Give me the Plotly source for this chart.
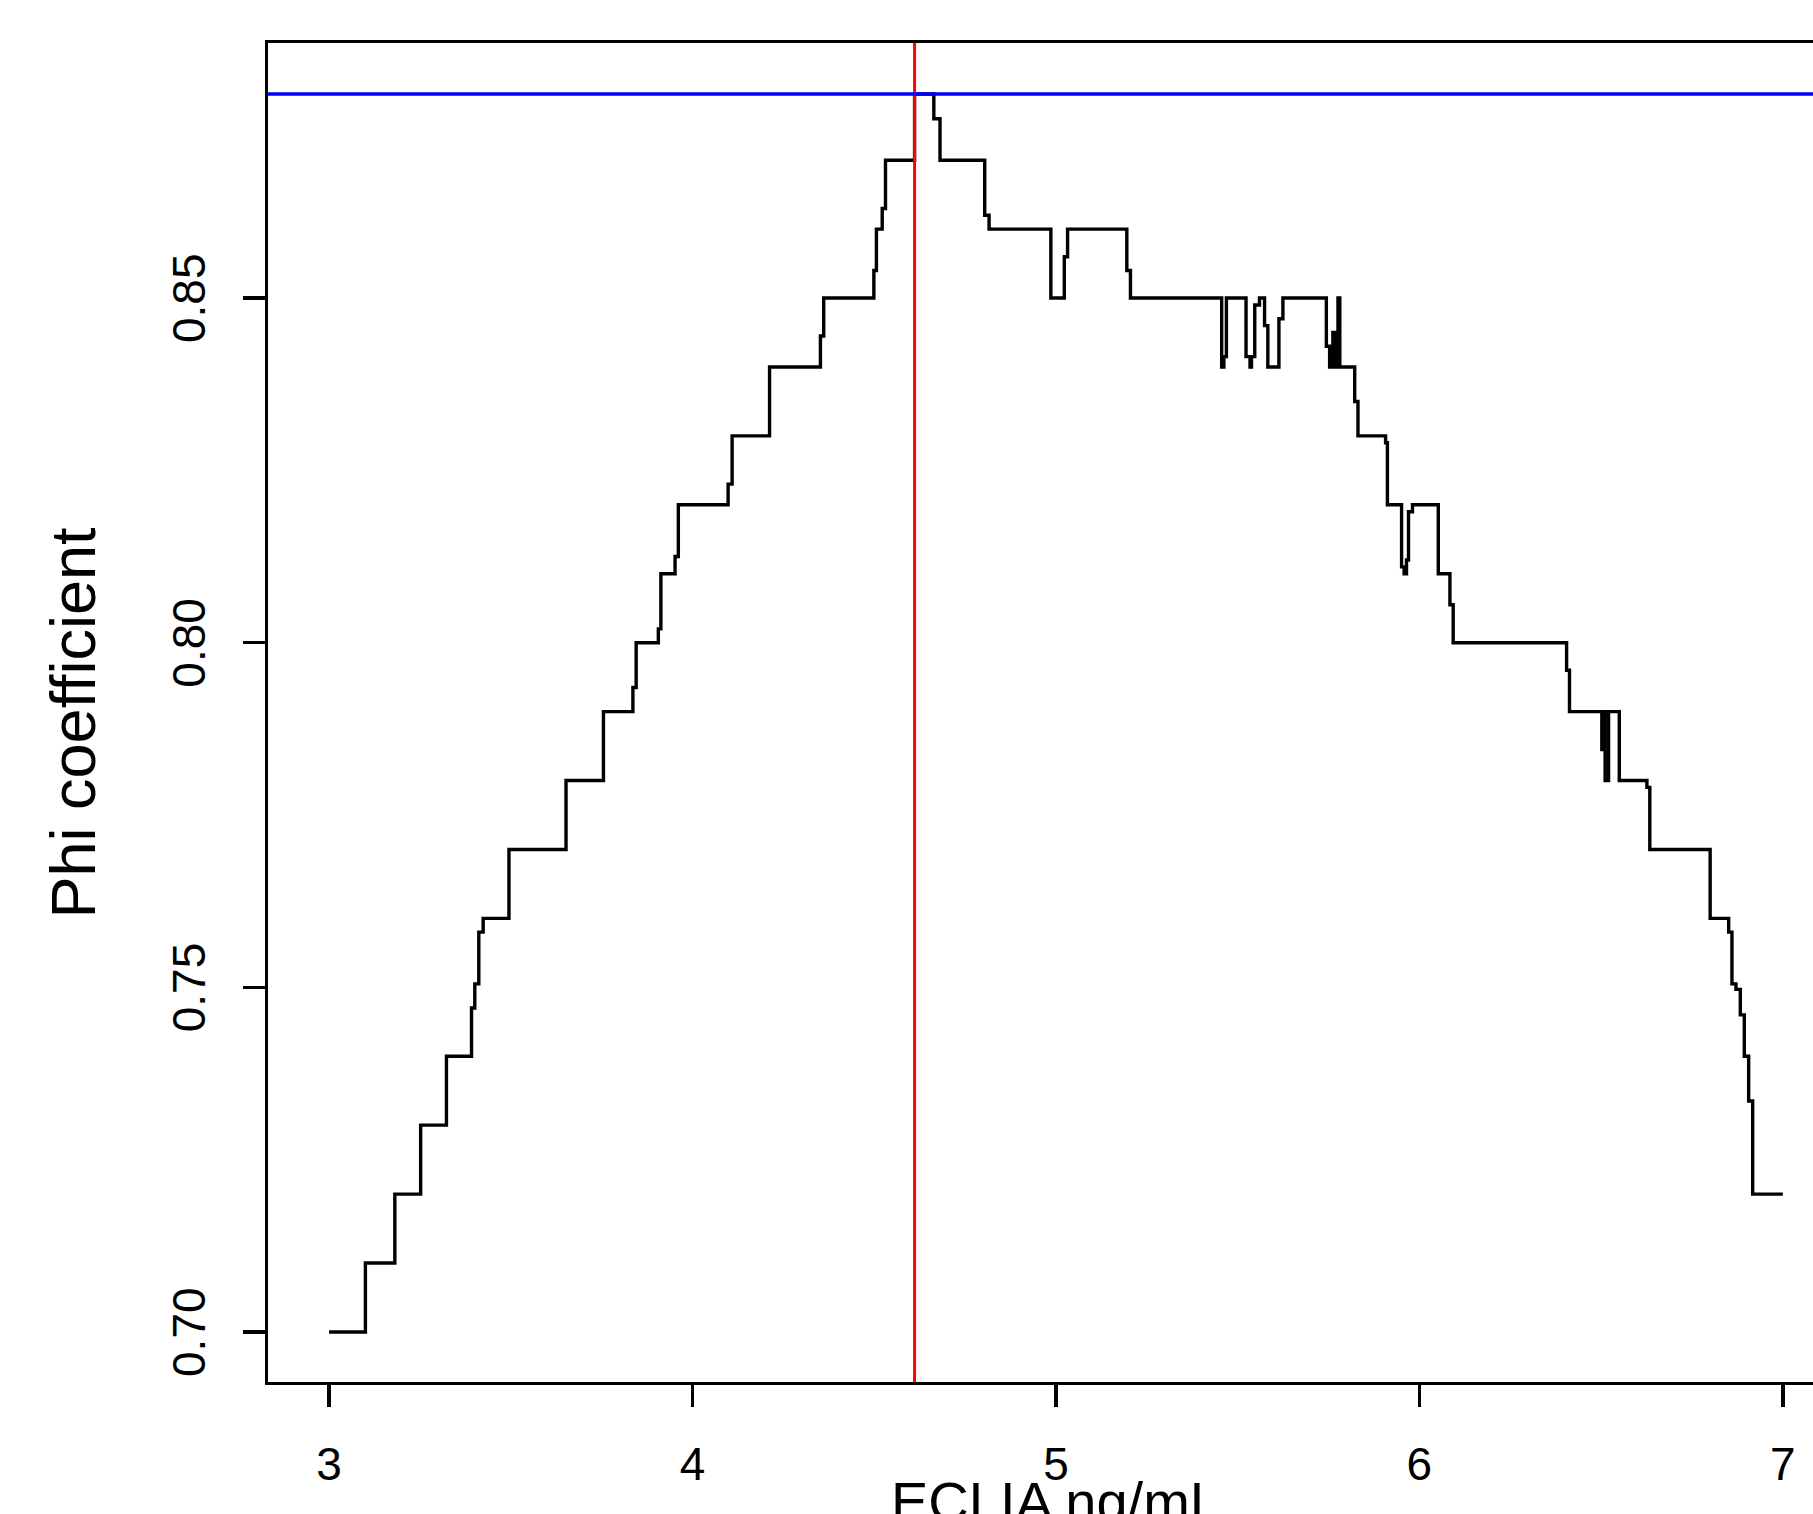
import plotly.graph_objects as go

# ---- data (step curve of Phi coefficient vs ECLIA cut-off) ----
eclia_cutoff = [3.000, 3.100, 3.181, 3.252, 3.323, 3.392, 3.401, 3.412, 3.424, 3.495,
                3.652, 3.755, 3.836, 3.845, 3.906, 3.913, 3.952, 3.961, 4.098, 4.109,
                4.212, 4.352, 4.361, 4.499, 4.506, 4.522, 4.531, 4.611, 4.664, 4.681,
                4.804, 4.816, 4.986, 5.023, 5.032, 5.195, 5.205, 5.456, 5.462, 5.469,
                5.523, 5.534, 5.538, 5.547, 5.560, 5.574, 5.583, 5.6135, 5.6245, 5.744,
                5.753, 5.762, 5.769, 5.776, 5.781, 5.822, 5.831, 5.907, 5.912, 5.951,
                5.958, 5.9645, 5.970, 5.981, 6.052, 6.084, 6.093, 6.405, 6.413, 6.502,
                6.5065, 6.511, 6.5205, 6.550, 6.626, 6.634, 6.800, 6.851, 6.860, 6.871,
                6.883, 6.894, 6.906, 6.917, 7.000]
phi_coef = [0.700, 0.710, 0.720, 0.730, 0.740, 0.747, 0.7505, 0.758, 0.760, 0.770,
            0.780, 0.790, 0.7935, 0.800, 0.802, 0.810, 0.8125, 0.820, 0.823, 0.830,
            0.840, 0.8445, 0.850, 0.854, 0.860, 0.863, 0.870, 0.8796, 0.876, 0.870,
            0.862, 0.860, 0.850, 0.856, 0.860, 0.854, 0.850, 0.840, 0.8415, 0.850,
            0.8415, 0.840, 0.8415, 0.849, 0.850, 0.846, 0.840, 0.847, 0.850, 0.843,
            0.840, 0.845, 0.840, 0.850, 0.840, 0.835, 0.830, 0.829, 0.820, 0.811,
            0.810, 0.812, 0.819, 0.820, 0.810, 0.8055, 0.800, 0.796, 0.790, 0.7845,
            0.790, 0.780, 0.790, 0.780, 0.779, 0.770, 0.760, 0.758, 0.7505, 0.7497,
            0.746, 0.740, 0.7335, 0.720, 0.720]

optimal_cutoff = 4.611
max_phi = 0.8796

x_tick_vals = [3, 4, 5, 6, 7]
x_tick_text = ["3", "4", "5", "6", "7"]
y_tick_vals = [0.70, 0.75, 0.80, 0.85]
y_tick_text = ["0.70", "0.75", "0.80", "0.85"]

x_title = "ECLIA ng/mL"
y_title = "Phi coefficient"

FONT = "Liberation Sans, Arial, sans-serif"
TICK_SIZE = 46

fig = go.Figure()
fig.add_trace(go.Scatter(
    x=eclia_cutoff, y=phi_coef, mode="lines",
    line=dict(shape="hv", color="black", width=3.4),
    showlegend=False, hoverinfo="skip",
))

fig.add_vline(x=optimal_cutoff, line=dict(color="#FF0000", width=3))
fig.add_hline(y=max_phi, line=dict(color="#0000FF", width=3.4))

# y tick labels, drawn parallel to the axis (read bottom to top) and centred on each tick
annotations = [
    dict(text=t, textangle=-90, xref="paper", yref="y",
         x=0, y=v, xanchor="center", yanchor="middle",
         xshift=-79, showarrow=False,
         font=dict(family=FONT, size=TICK_SIZE, color="black"))
    for v, t in zip(y_tick_vals, y_tick_text)
]
annotations += [
    dict(text=y_title, textangle=-90, xref="paper", yref="paper",
         x=0, y=0.5, xanchor="center", yanchor="middle",
         xshift=-196, yshift=-10, showarrow=False,
         font=dict(family=FONT, size=63, color="black")),
    dict(text=x_title, xref="x", yref="paper",
         x=5.0, y=0, xanchor="center", yanchor="top",
         yshift=-86, showarrow=False,
         font=dict(family=FONT, size=56, color="black")),
]

fig.update_layout(
    width=1813, height=1514, autosize=False,
    margin=dict(l=268, r=0, t=43, b=132, pad=0),
    paper_bgcolor="white", plot_bgcolor="white",
    font=dict(family=FONT, color="black"),
    xaxis=dict(
        range=[2.832, 7.083], tickvals=x_tick_vals, ticktext=x_tick_text,
        ticks="outside", ticklen=22, tickwidth=3.4, tickcolor="black",
        showline=True, linewidth=3.4, linecolor="black", mirror=True,
        showgrid=False, zeroline=False,
        tickfont=dict(family=FONT, size=TICK_SIZE, color="black"),
        ticklabelstandoff=17,
    ),
    yaxis=dict(
        range=[0.69274, 0.887], tickvals=y_tick_vals,
        ticks="outside", ticklen=22, tickwidth=3.4, tickcolor="black",
        showline=True, linewidth=3.4, linecolor="black", mirror=False,
        showgrid=False, zeroline=False, showticklabels=False,
    ),
    annotations=annotations,
)

fig.write_html(
    "out.html",
    config={"displayModeBar": False, "staticPlot": True},
    post_script="document.body.style.margin='0px';document.body.style.overflow='hidden';",
)
